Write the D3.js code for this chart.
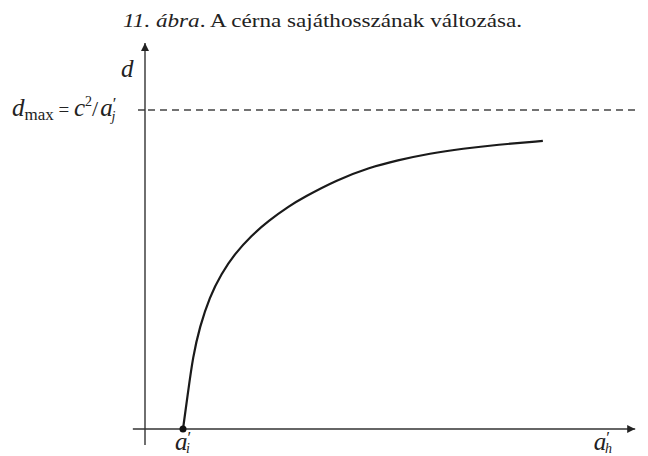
<!DOCTYPE html>
<html>
<head>
<meta charset="utf-8">
<script src="https://cdn.jsdelivr.net/npm/d3@7"></script>
<style>
  body { margin: 0; background: #fff; }
  svg { display: block; }
  text { font-family: "Liberation Serif", "DejaVu Serif", serif; fill: #222; }
</style>
</head>
<body>
<div id="chart"></div>
<script>
// curve: a' in units of a'_i, d in units of d_max
const aValues = [1.0, 1.13, 1.26, 1.44, 1.70, 2.01, 2.36, 2.80, 3.24, 3.81, 4.16, 5.05, 5.92, 6.63, 7.5, 8.37, 9.26, 10.47];
const dValues = [0.0, 0.113, 0.226, 0.320, 0.414, 0.487, 0.549, 0.606, 0.652, 0.700, 0.725, 0.781, 0.820, 0.842, 0.864, 0.879, 0.891, 0.903];
const dMax = 1;
const aStart = 1;           // a'_i, where the curve leaves the axis
const xExtent = [-0.32, 12.9];
const yExtent = [-0.05, 1.21];

const width = 648, height = 456;

const svg = d3.select("#chart").append("svg")
    .attr("width", width)
    .attr("height", height);

const x = d3.scaleLinear().domain([0, 13]).range([145, 639]);
const y = d3.scaleLinear().domain([0, 1]).range([429, 110]);

// title
const title = svg.append("text")
    .attr("x", 123)
    .attr("y", 27)
    .attr("font-size", 19)
    .attr("textLength", 399)
    .attr("lengthAdjust", "spacingAndGlyphs");
title.append("tspan").attr("font-style", "italic").text("11. ábra");
title.append("tspan").text(". A cérna sajáthosszának változása.");

// arrow marker
svg.append("defs").append("marker")
    .attr("id", "arrow")
    .attr("viewBox", "0 0 10 10")
    .attr("refX", 10).attr("refY", 5)
    .attr("markerWidth", 8).attr("markerHeight", 8)
    .attr("markerUnits", "userSpaceOnUse")
    .attr("orient", "auto")
    .append("path")
    .attr("d", "M0,0 L10,5 L0,10 z")
    .attr("fill", "#222");

// axes
svg.append("line")
    .attr("x1", x(xExtent[0])).attr("x2", x(xExtent[1]))
    .attr("y1", y(0)).attr("y2", y(0))
    .attr("stroke", "#333").attr("stroke-width", 1.4)
    .attr("marker-end", "url(#arrow)");

svg.append("line")
    .attr("x1", x(0)).attr("x2", x(0))
    .attr("y1", y(yExtent[0])).attr("y2", y(yExtent[1]))
    .attr("stroke", "#333").attr("stroke-width", 1.4)
    .attr("marker-end", "url(#arrow)");

// d_max asymptote
svg.append("line")
    .attr("x1", x(0) + 3).attr("x2", x(xExtent[1]))
    .attr("y1", y(dMax)).attr("y2", y(dMax))
    .attr("stroke", "#444").attr("stroke-width", 1.3)
    .attr("stroke-dasharray", "7,5");

svg.append("line")
    .attr("x1", x(0) - 7).attr("x2", x(0))
    .attr("y1", y(dMax)).attr("y2", y(dMax))
    .attr("stroke", "#333").attr("stroke-width", 1.4);

// curve
const line = d3.line()
    .x((d, i) => x(aValues[i]))
    .y(d => y(d))
    .curve(d3.curveBasis);

svg.append("path")
    .datum(dValues)
    .attr("d", line)
    .attr("fill", "none")
    .attr("stroke", "#1a1a1a")
    .attr("stroke-width", 2.2);

svg.append("circle")
    .attr("cx", x(aStart)).attr("cy", y(0))
    .attr("r", 3.5)
    .attr("fill", "#111");

// axis labels
svg.append("text")
    .attr("x", x(0) - 24).attr("y", 77)
    .attr("font-size", 25).attr("font-style", "italic")
    .text("d");

const dm = svg.append("text")
    .attr("x", 12).attr("y", 116)
    .attr("font-size", 25);
dm.append("tspan").attr("font-style", "italic").text("d");
dm.append("tspan").attr("font-size", 17).attr("dy", 4).text("max");
dm.append("tspan").attr("font-size", 19).attr("dy", -4).text(" = ");
dm.append("tspan").attr("font-style", "italic").text("c");
dm.append("tspan").attr("font-size", 14).attr("dy", -10).text("2");
dm.append("tspan").attr("font-size", 22).attr("dy", 10).text("/");
dm.append("tspan").attr("font-style", "italic").attr("dx", 2).text("a");
dm.append("tspan").attr("font-size", 17).attr("dy", -7).text("′");
dm.append("tspan").attr("font-size", 14).attr("font-style", "italic").attr("dx", -5).attr("dy", 12).text("j");

function aLabel(cx, sub) {
    const t = svg.append("text")
        .attr("x", cx).attr("y", 450)
        .attr("font-size", 25)
        .attr("text-anchor", "middle");
    t.append("tspan").attr("font-style", "italic").text("a");
    t.append("tspan").attr("font-size", 17).attr("dy", -7).text("′");
    t.append("tspan").attr("font-size", 14).attr("font-style", "italic").attr("dx", -5).attr("dy", 10).text(sub);
}
aLabel(x(aStart), "i");
aLabel(x(12.05), "h");
</script>
</body>
</html>
